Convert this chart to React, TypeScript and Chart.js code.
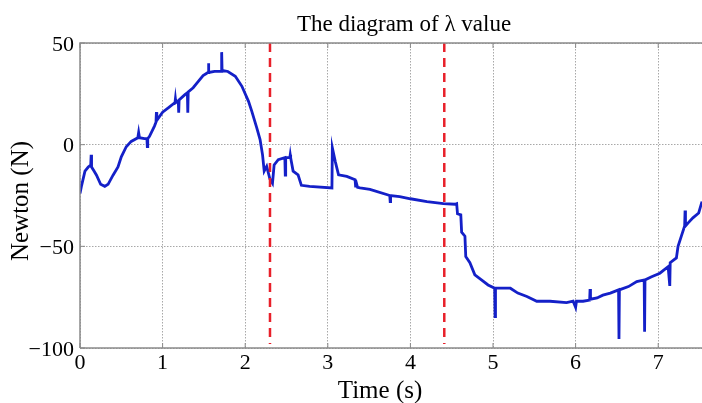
import React, { useEffect, useRef } from "react";
import { Chart, registerables } from "chart.js";

Chart.register(...registerables);

const timeS = [
  0.0, 0.02, 0.06, 0.1, 0.13, 0.135, 0.14, 0.17, 0.2, 0.25, 0.3, 0.34, 0.4, 0.46, 0.5, 0.56, 0.62, 0.7, 0.71, 0.72,
  0.78, 0.81, 0.815, 0.82, 0.84, 0.9, 0.92, 0.925, 0.93, 1.0, 1.08, 1.15, 1.155, 1.16, 1.19, 1.195, 1.2, 1.27, 1.3,
  1.305, 1.31, 1.37, 1.43, 1.49, 1.55, 1.555, 1.56, 1.63, 1.71, 1.715, 1.72, 1.79, 1.88, 1.96, 2.04, 2.08, 2.14, 2.18,
  2.21, 2.23, 2.26, 2.3, 2.33, 2.35, 2.4, 2.48, 2.485, 2.49, 2.54, 2.545, 2.55, 2.58, 2.64, 2.68, 2.78, 3.05, 3.055,
  3.09, 3.13, 3.23, 3.33, 3.335, 3.34, 3.36, 3.39, 3.51, 3.75, 3.755, 3.76, 3.87, 4.0, 4.2, 4.4, 4.54, 4.56, 4.57,
  4.61, 4.62, 4.66, 4.67, 4.72, 4.78, 4.86, 4.94, 5.02, 5.025, 5.03, 5.08, 5.21, 5.3, 5.41, 5.53, 5.69, 5.89, 5.97, 6.0,
  6.01, 6.09, 6.17, 6.175, 6.18, 6.26, 6.33, 6.42, 6.52, 6.525, 6.53, 6.64, 6.74, 6.83, 6.835, 6.84, 6.92, 7.02,
  7.12, 7.14, 7.145, 7.22, 7.24, 7.28, 7.32, 7.325, 7.33, 7.36, 7.42, 7.49, 7.53,
];

const lambdaN = [
  -24, -20, -13, -11, -10, -5, -11, -13, -15, -19.5, -20.5, -19.5, -15, -11, -6, -1, 1.6, 3.4, 6, 3.4,
  3, 3, -1, 3, 4, 9, 11, 16, 12, 16, 18.5, 20.7, 22.5, 20.7, 21.5, 15.7, 22, 24.6, 25.5,
  15.7, 26, 28, 31, 34, 35.5, 40, 35.5, 36, 36, 45.5, 36.5, 36, 33.6, 28.7, 21.3, 16.4, 8.3, 2.5,
  -5, -13, -10.7, -17, -19, -10, -7.4, -6.4, -15, -6.4, -6.4, -5, -6.4, -13, -14.8, -20, -20.5, -21.3, -1.6,
  -8.2, -14.8, -15.6, -17.2, -21, -17.5, -21, -21.3, -22, -25, -28, -25, -25.5, -26.6, -28, -29, -29.3, -29, -34,
  -34.5, -43, -45, -55, -58, -64, -66.5, -69, -70.6, -84.6, -70.6, -70.6, -70.6, -73, -74.7, -77, -77, -77.7, -77, -80,
  -77, -77, -76.4, -71, -76, -75.4, -74, -73, -71.4, -95.6, -71.4, -69.8, -67.3, -66.5, -92, -66.5, -65, -63.2,
  -60, -69.5, -58, -55.7, -50, -45, -40, -32.4, -40, -38.6, -36, -33.6, -28,
];

const markerTimes = [2.3, 4.41];
const markerRange = [50, -98];

const xTicks = [0, 1, 2, 3, 4, 5, 6, 7];
const yTicks = [-100, -50, 0, 50];

const titleText = "The diagram of \u03bb value";
const xLabel = "Time (s)";
const yLabel = "Newton (N)";

const FONT = "'Liberation Serif', 'DejaVu Serif', serif";

const framePlugin = {
  id: "frame",
  afterDraw(chart: any) {
    const { ctx, chartArea } = chart;
    const { left, right, top, bottom } = chartArea;
    const xs = chart.scales.x;
    const ys = chart.scales.y;
    ctx.save();
    ctx.strokeStyle = "#8a8a8a";
    ctx.lineWidth = 1.5;
    ctx.setLineDash([]);
    ctx.beginPath();
    ctx.moveTo(left, bottom);
    ctx.lineTo(left, top);
    ctx.lineTo(right, top);
    ctx.moveTo(left, bottom);
    ctx.lineTo(right, bottom);
    ctx.stroke();
    ctx.lineWidth = 1;
    ctx.beginPath();
    xTicks.forEach((v) => {
      const px = xs.getPixelForValue(v);
      ctx.moveTo(px, bottom);
      ctx.lineTo(px, bottom - 5);
      ctx.moveTo(px, top);
      ctx.lineTo(px, top + 5);
    });
    yTicks.forEach((v) => {
      const py = ys.getPixelForValue(v);
      ctx.moveTo(left, py);
      ctx.lineTo(left + 5, py);
    });
    ctx.stroke();

    ctx.fillStyle = "#000";
    ctx.textBaseline = "alphabetic";
    // tick labels
    ctx.font = `22px ${FONT}`;
    ctx.textAlign = "center";
    xTicks.forEach((v) => {
      ctx.fillText(String(v), xs.getPixelForValue(v), 369);
    });
    ctx.textAlign = "right";
    yTicks.forEach((v) => {
      ctx.fillText(String(v).replace("-", "\u2212"), 74, ys.getPixelForValue(v) + 7.5);
    });

    ctx.textAlign = "center";
    ctx.font = `23px ${FONT}`;
    ctx.fillText(titleText, 404, 31);
    ctx.font = `25px ${FONT}`;
    ctx.fillText(xLabel, 380, 398);
    ctx.translate(28, 201);
    ctx.rotate(-Math.PI / 2);
    ctx.fillText(yLabel, 0, 0);
    ctx.restore();
  },
};

export default function App() {
  const ref = useRef<HTMLCanvasElement | null>(null);

  useEffect(() => {
    if (!ref.current) return;
    const mainData = timeS.map((t, i) => ({ x: t, y: lambdaN[i] }));
    const markerSets = markerTimes.map((t) => ({
      data: markerRange.map((v) => ({ x: t, y: v })),
      borderColor: "#e8202a",
      borderWidth: 2.5,
      borderDash: [9, 6],
      pointRadius: 0,
      fill: false,
    }));
    const chart = new Chart(ref.current, {
      type: "line",
      data: {
        datasets: [
          ...markerSets,
          {
            data: mainData,
            borderColor: "#1420c8",
            borderWidth: 2.8,
            pointRadius: 0,
            tension: 0,
            fill: false,
          },
        ],
      },
      options: {
        animation: false,
        responsive: false,
        parsing: false as any,
        layout: { padding: { top: 43, left: 0, right: 0, bottom: 0 } },
        plugins: {
          legend: { display: false },
          title: { display: false },
          tooltip: { enabled: false },
        },
        scales: {
          x: {
            type: "linear",
            min: 0,
            max: 7.53,
            afterFit: (s: any) => {
              s.height = 55;
            },
            afterBuildTicks: (s: any) => {
              s.ticks = xTicks.map((v) => ({ value: v }));
            },
            ticks: { display: false },
            grid: { color: "#a8a8a8", lineWidth: 1, drawTicks: false },
            border: { display: false, dash: [1.5, 1.5] },
          },
          y: {
            type: "linear",
            min: -100,
            max: 50,
            afterFit: (s: any) => {
              s.width = 80;
            },
            afterBuildTicks: (s: any) => {
              s.ticks = yTicks.map((v) => ({ value: v }));
            },
            ticks: { display: false },
            grid: { color: "#a8a8a8", lineWidth: 1, drawTicks: false },
            border: { display: false, dash: [1.5, 1.5] },
          },
        },
      },
      plugins: [framePlugin],
    });
    return () => chart.destroy();
  }, []);

  return (
    <div style={{ position: "fixed", left: 0, top: 0, width: 702, height: 403, background: "#fff" }}>
      <canvas ref={ref} width={702} height={403} />
    </div>
  );
}
